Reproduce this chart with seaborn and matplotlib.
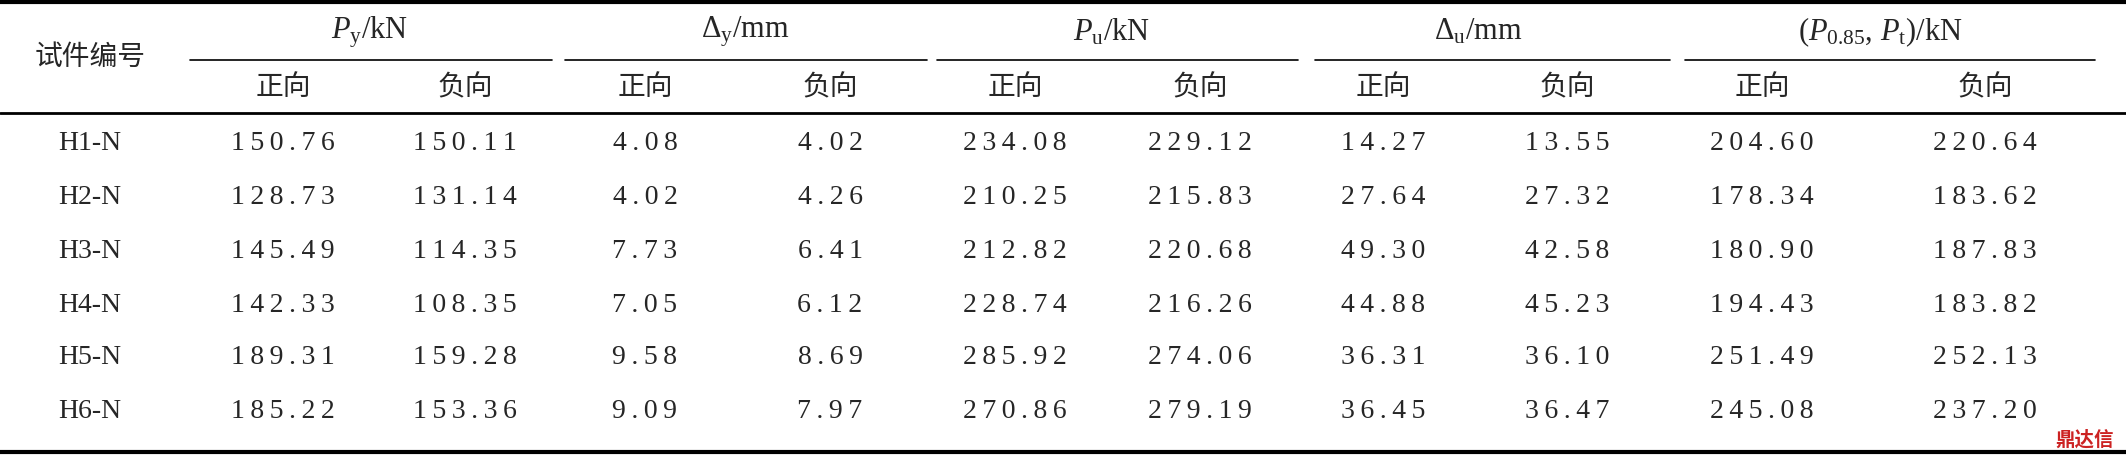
import matplotlib
matplotlib.use("Agg")
import matplotlib.pyplot as plt
import seaborn as sns

specimens = ["H1-N", "H2-N", "H3-N", "H4-N", "H5-N", "H6-N"]
group_labels = [r"$P_{\mathrm{y}}$/kN", r"$\Delta_{\mathrm{y}}$/mm", r"$P_{\mathrm{u}}$/kN",
                r"$\Delta_{\mathrm{u}}$/mm", r"($P_{\mathrm{0.85}}$, $P_{\mathrm{t}}$)/kN"]
sub_labels = ["正向", "负向"]
py_pos = [150.76, 128.73, 145.49, 142.33, 189.31, 185.22]
py_neg = [150.11, 131.14, 114.35, 108.35, 159.28, 153.36]
dy_pos = [4.08, 4.02, 7.73, 7.05, 9.58, 9.09]
dy_neg = [4.02, 4.26, 6.41, 6.12, 8.69, 7.97]
pu_pos = [234.08, 210.25, 212.82, 228.74, 285.92, 270.86]
pu_neg = [229.12, 215.83, 220.68, 216.26, 274.06, 279.19]
du_pos = [14.27, 27.64, 49.30, 44.88, 36.31, 36.45]
du_neg = [13.55, 27.32, 42.58, 45.23, 36.10, 36.47]
pt_pos = [204.60, 178.34, 180.90, 194.43, 251.49, 245.08]
pt_neg = [220.64, 183.62, 187.83, 183.82, 252.13, 237.20]

columns = [py_pos, py_neg, dy_pos, dy_neg, pu_pos, pu_neg, du_pos, du_neg, pt_pos, pt_neg]

sns.set_theme(style="white")
plt.rcParams['font.family'] = ['Liberation Serif', 'Noto Sans CJK SC']
plt.rcParams['mathtext.fontset'] = 'custom'
plt.rcParams['mathtext.rm'] = 'Liberation Serif'
plt.rcParams['mathtext.it'] = 'Liberation Serif:italic'

fig = plt.figure(figsize=(21.26, 4.55), dpi=100)
ax = fig.add_axes([0, 0, 1, 1])
ax.set_xlim(0, 2126)
ax.set_ylim(455, 0)
ax.axis("off")

fs = 20
col_x = [283, 465, 645, 830, 1015, 1200, 1383, 1567, 1762, 1985]
grp_x = [370, 745, 1112, 1478, 1880]
grp_span = [(190, 552), (565, 927), (937, 1298), (1315, 1670), (1685, 2095)]
row_y = [143, 197, 251, 305, 358, 412]


def spaced(s):
    return "\u2009".join(s)


# rules
ax.plot([0, 2126], [2, 2], color="black", lw=3)
ax.plot([0, 2126], [113, 113], color="black", lw=2)
ax.plot([0, 2126], [452, 452], color="black", lw=3)
for (a, b) in grp_span:
    ax.plot([a, b], [60, 60], color="black", lw=1.2)

ax.text(90, 58, "试件编号", ha="center", va="center", fontsize=fs)
for gx, g in zip(grp_x, group_labels):
    ax.text(gx, 32, g, ha="center", va="center", fontsize=fs + 2)
for i, cx in enumerate(col_x):
    ax.text(cx, 88, sub_labels[i % 2], ha="center", va="center", fontsize=fs)

for r, (name, ry) in enumerate(zip(specimens, row_y)):
    ax.text(90, ry, name, ha="center", va="center", fontsize=fs)
    for cx, col in zip(col_x, columns):
        ax.text(cx, ry, spaced(f"{col[r]:.2f}"), ha="center", va="center", fontsize=fs)

ax.text(2085, 440, "鼎达信", ha="center", va="center", fontsize=14, color="#cc2222",
        family=['Noto Sans CJK SC'], weight="bold")

fig.savefig("out.png", dpi=100)
